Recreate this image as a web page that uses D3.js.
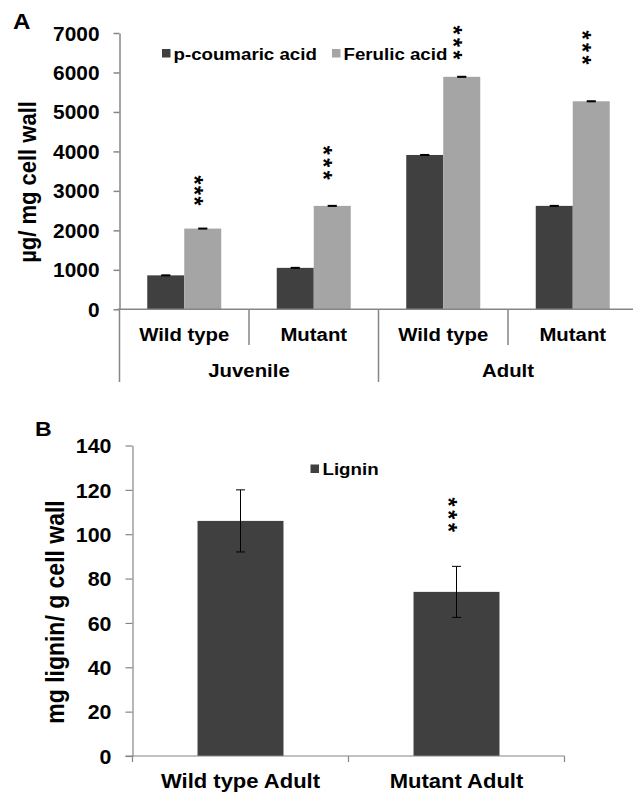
<!DOCTYPE html>
<html><head><meta charset="utf-8">
<script src="https://cdn.jsdelivr.net/npm/d3@7"></script>
<style>
body{margin:0;background:#fff}
text{font-family:"Liberation Sans",Arial,sans-serif;font-weight:bold;fill:#000}
</style>
</head><body><svg id="c" width="633" height="794"></svg>
<script>
// ---------- Data: panel A ----------
const stages = ["Juvenile", "Adult"];
const genotypes = ["Wild type", "Mutant"];
const seriesA = ["p-coumaric acid", "Ferulic acid"];
const pCoumaric = [860, 1050, 3910, 2620];
const ferulic = [2045, 2620, 5890, 5270];
const pCoumaricErr = [8, 8, 8, 8];
const ferulicErr = [8, 8, 8, 8];
const sigA = [2745, 3400, 6445, 6318];   // value level of the lowest "*" above each ferulic bar
const ticksA = [0, 1000, 2000, 3000, 4000, 5000, 6000, 7000];
const yTitleA = "µg/ mg cell wall";

// ---------- Data: panel B ----------
const ligninCats = ["Wild type Adult", "Mutant Adult"];
const seriesB = ["Lignin"];
const lignin = [106, 74];
const ligninErr = [14, 11.5];
const sigB = [null, 103];
const ticksB = [0, 20, 40, 60, 80, 100, 120, 140];
const yTitleB = "mg lignin/ g cell wall";

// ---------- Styles ----------
const DARK = "#404040", LIGHT = "#a5a5a5", AXIS = "#868686";
const SX = 1.1; // horizontal text stretch of the original figure
const svg = d3.select("#c");

function stext(parent, x, y, str, size, anchor, rotate) {
  const g = parent.append("g").attr("transform", `translate(${x},${y}) scale(${SX},1)`);
  const t = g.append("text").text(str).attr("font-size", size).attr("text-anchor", anchor || "start");
  if (rotate) t.attr("transform", `rotate(${rotate})`);
  return t;
}
function stars(parent, x, yBottom, size, gap) {
  for (let k = 0; k < 3; k++) {
    const g = parent.append("g").attr("transform", `translate(${x},${yBottom - k * gap})`);
    g.append("text").text("*").attr("font-size", size).attr("text-anchor", "middle")
      .attr("transform", "rotate(90)").attr("dy", "0.6em");
  }
}

// =============== PANEL A ===============
const A = svg.append("g");
const yA = d3.scaleLinear().domain([0, 7000]).range([309.3, 33]);
const groupKeys = [];
stages.forEach(s => genotypes.forEach(g => groupKeys.push(s + "|" + g)));
const xA = d3.scaleBand().domain(groupKeys).range([119.5, 637.5]).padding(0);
const xSub = d3.scaleBand().domain(seriesA).range([0, xA.bandwidth()]).paddingInner(0).paddingOuter(0.75);
const colorA = d3.scaleOrdinal().domain(seriesA).range([DARK, LIGHT]);
const valsA = { "p-coumaric acid": pCoumaric, "Ferulic acid": ferulic };
const errsA = { "p-coumaric acid": pCoumaricErr, "Ferulic acid": ferulicErr };

groupKeys.forEach((k, i) => {
  seriesA.forEach(s => {
    const v = valsA[s][i], e = errsA[s][i];
    const x0 = xA(k) + xSub(s);
    A.append("rect").attr("x", x0).attr("y", yA(v)).attr("width", xSub.bandwidth())
      .attr("height", yA(0) - yA(v)).attr("fill", colorA(s));
    const cx = x0 + xSub.bandwidth() / 2;
    A.append("line").attr("x1", cx).attr("x2", cx).attr("y1", yA(v + e)).attr("y2", yA(v - e)).attr("stroke", "#000").attr("stroke-width", 1);
    [v + e, v - e].forEach(w => A.append("line").attr("x1", cx - 4.5).attr("x2", cx + 4.5)
      .attr("y1", yA(w)).attr("y2", yA(w)).attr("stroke", "#000").attr("stroke-width", 1.4));
  });
  const fx = xA(k) + xSub("Ferulic acid") + xSub.bandwidth() / 2 - 3;
  stars(A, fx, yA(sigA[i]), 23, i === 0 ? 10.5 : 12.5);
});

const axA = A.append("g").attr("transform", `translate(${xA.range()[0]},0)`)
  .call(d3.axisLeft(yA).tickValues(ticksA).tickSize(6).tickSizeOuter(0).tickPadding(0).tickFormat(d3.format("d")));
axA.select(".domain").attr("stroke", AXIS).attr("stroke-width", 1.5);
axA.selectAll(".tick line").attr("stroke", AXIS).attr("stroke-width", 1.5);
axA.selectAll(".tick text").attr("font-size", 19.5).attr("font-family", null).attr("x", -20 / 1.07)
  .attr("transform", `scale(1.07,1)`).attr("dy", "0.36em");

const y0A = yA(0);
A.append("line").attr("x1", xA.range()[0] - 2).attr("x2", xA.range()[1]).attr("y1", y0A).attr("y2", y0A)
  .attr("stroke", AXIS).attr("stroke-width", 1.5);
groupKeys.concat(["end"]).forEach((k, i) => {
  const x = i < groupKeys.length ? xA(k) : xA.range()[1];
  const long = i % 2 === 0;
  A.append("line").attr("x1", x).attr("x2", x).attr("y1", y0A).attr("y2", long ? 382 : 345)
    .attr("stroke", AXIS).attr("stroke-width", 1.5);
});
groupKeys.forEach(k => stext(A, xA(k) + xA.bandwidth() / 2, 341, k.split("|")[1], 18.5, "middle"));
stages.forEach(s => {
  const x = (xA(s + "|" + genotypes[0]) + xA(s + "|" + genotypes[1]) + xA.bandwidth()) / 2;
  stext(A, x, 377, s, 18.5, "middle");
});

stext(A, 36, 182, yTitleA, 22, "middle", -90);
stext(A, 13, 29, "A", 22, "start");
seriesA.forEach((s, i) => {
  const lx = i === 0 ? 162 : 332;
  A.append("rect").attr("x", lx).attr("y", 49).attr("width", 8.5).attr("height", 8.5).attr("fill", colorA(s));
  stext(A, lx + 11.5, 59.5, s, 17, "start");
});

// =============== PANEL B ===============
const B = svg.append("g");
const yB = d3.scaleLinear().domain([0, 140]).range([756, 445.5]);
const xB = d3.scaleBand().domain(ligninCats).range([132.5, 564.5]).paddingInner(0.602).paddingOuter(0.301);

ligninCats.forEach((c, i) => {
  const v = lignin[i], e = ligninErr[i];
  B.append("rect").attr("x", xB(c)).attr("y", yB(v)).attr("width", xB.bandwidth())
    .attr("height", yB(0) - yB(v)).attr("fill", DARK);
  const cx = xB(c) + xB.bandwidth() / 2;
  B.append("line").attr("x1", cx).attr("x2", cx).attr("y1", yB(v + e)).attr("y2", yB(v - e)).attr("stroke", "#000").attr("stroke-width", 1);
  [v + e, v - e].forEach(w => B.append("line").attr("x1", cx - 4.5).attr("x2", cx + 4.5)
    .attr("y1", yB(w)).attr("y2", yB(w)).attr("stroke", "#000").attr("stroke-width", 1));
  if (sigB[i] != null) stars(B, cx - 3, yB(sigB[i]), 23, 12.8);
});

const axB = B.append("g").attr("transform", `translate(${xB.range()[0]},0)`)
  .call(d3.axisLeft(yB).tickValues(ticksB).tickSize(7).tickSizeOuter(0).tickPadding(0).tickFormat(d3.format("d")));
axB.select(".domain").attr("stroke", AXIS).attr("stroke-width", 1.2);
axB.selectAll(".tick line").attr("stroke", AXIS).attr("stroke-width", 1.2);
axB.selectAll(".tick text").attr("font-size", 20).attr("font-family", null).attr("x", -21 / 1.07)
  .attr("transform", `scale(1.07,1)`).attr("dy", "0.36em");

const y0B = yB(0);
B.append("line").attr("x1", xB.range()[0] - 7).attr("x2", xB.range()[1]).attr("y1", y0B).attr("y2", y0B)
  .attr("stroke", AXIS).attr("stroke-width", 1.2);
const bounds = [xB.range()[0]].concat(ligninCats.map(c => xB(c) + xB.bandwidth() / 2 + xB.step() / 2));
bounds.forEach(x => B.append("line").attr("x1", x).attr("x2", x).attr("y1", y0B).attr("y2", y0B + 6)
  .attr("stroke", AXIS).attr("stroke-width", 1.2));
ligninCats.forEach(c => stext(B, xB(c) + xB.bandwidth() / 2, 788, c, 20, "middle"));

stext(B, 64, 612, yTitleB, 23, "middle", -90);
stext(B, 35, 436, "B", 21, "start");
B.append("rect").attr("x", 310.5).attr("y", 464.5).attr("width", 8.5).attr("height", 8.5).attr("fill", DARK);
stext(B, 322.5, 475, seriesB[0], 17, "start");
</script>
</body></html>
